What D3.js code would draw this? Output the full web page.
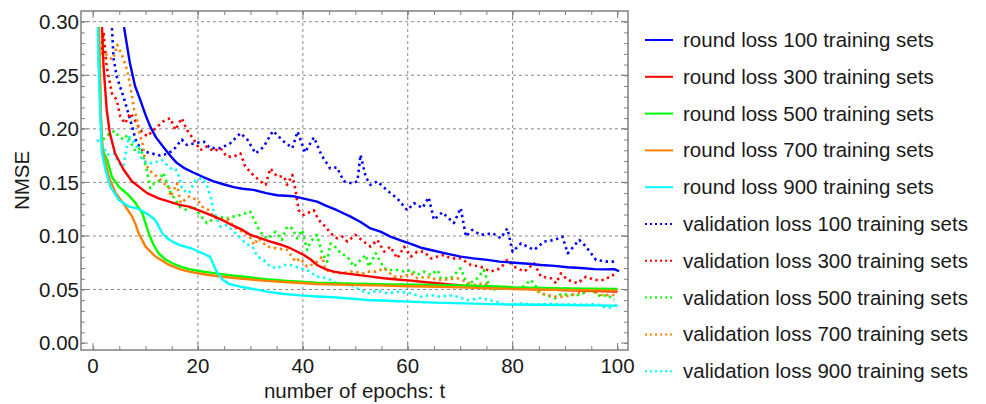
<!DOCTYPE html>
<html><head><meta charset="utf-8">
<script src="https://cdn.jsdelivr.net/npm/d3@7"></script>
<style>html,body{margin:0;padding:0;background:#fff;}svg{display:block;font-family:Arial,"Liberation Sans",sans-serif;}</style>
</head><body>
<svg id="c" width="986" height="404"></svg>
<script>
const xTicks = [0, 20, 40, 60, 80, 100];
const yTicks = [0.00, 0.05, 0.10, 0.15, 0.20, 0.25, 0.30];
const xLabel = "number of epochs: t";
const yLabel = "NMSE";
const seriesNames = ["round loss 100 training sets","round loss 300 training sets","round loss 500 training sets","round loss 700 training sets","round loss 900 training sets","validation loss 100 training sets","validation loss 300 training sets","validation loss 500 training sets","validation loss 700 training sets","validation loss 900 training sets"];
const seriesColors = ["#0000ff","#ff0000","#00ff00","#ff8000","#00ffff","#0000ff","#ff0000","#00ff00","#ff8000","#00ffff"];
const seriesDotted = [false,false,false,false,false,true,true,true,true,true];

const round100 = [[5.9,.295],[7,.262],[8,.240],[9,.227],[10,.213],[10.9,.202],[12,.192],[13.4,.183],[14.7,.175],[16,.168],[17.5,.163],[19.2,.159],[21,.155],[23,.151],[25,.148],[26.8,.1455],[28.5,.144],[30.6,.143],[33,.140],[35.1,.138],[38.3,.137],[40,.135],[42.7,.132],[44.5,.128],[46.5,.124],[49.1,.118],[51,.113],[52.9,.107],[54.8,.104],[56.7,.0994],[58.5,.096],[60.6,.0925],[62.5,.089],[64.4,.0869],[67,.084],[70.1,.0807],[72.5,.079],[75.2,.0776],[77.5,.076],[80.3,.075],[83,.074],[85.4,.0729],[88,.072],[90.5,.0707],[93,.070],[95.6,.069],[97.5,.0688],[99.4,.069],[100.3,.067]];
const round300 = [[1.7,.295],[2,.258],[2.6,.218],[3.2,.196],[4.2,.177],[5.8,.162],[7.4,.151],[10.3,.140],[12.5,.135],[14.5,.132],[16.5,.129],[18.3,.1274],[20.8,.1227],[22.7,.119],[24.6,.115],[26.5,.110],[28.5,.1056],[30,.101],[31.6,.0985],[33.8,.0947],[35.7,.092],[37.6,.0885],[40.2,.0822],[41.5,.078],[42.7,.0729],[44.3,.069],[45.9,.0667],[48,.065],[50.4,.0636],[53,.062],[55.5,.0605],[58,.0593],[60.6,.0583],[63,.057],[65.7,.0558],[68,.0547],[70.7,.0536],[74,.0528],[77.1,.052],[80,.0512],[83.5,.0505],[86.5,.050],[89.8,.0495],[93,.049],[96.5,.0485],[100,.048]];
const round500 = [[1.1,.295],[1.3,.25],[1.5,.21],[1.8,.18],[2.7,.171],[3.6,.155],[4.9,.146],[6.8,.138],[8.1,.1306],[9.4,.121],[10,.112],[10.6,.1025],[11.5,.092],[12.5,.0838],[13.8,.078],[15.1,.0745],[16.5,.0715],[18.3,.069],[20.5,.067],[23.4,.065],[26.5,.063],[29.7,.0614],[33,.0595],[36.4,.0583],[39.5,.0573],[42.7,.0564],[47,.0557],[52.3,.0551],[57,.0548],[61.8,.0545],[67,.054],[72,.0535],[77,.0528],[80,.052],[85,.0515],[90,.051],[95,.0508],[100,.0505]];
const round700 = [[1.1,.295],[1.3,.25],[1.5,.21],[1.8,.18],[3,.155],[4.3,.14],[6.2,.1274],[7.45,.118],[8.1,.111],[8.7,.1025],[10,.09],[11.9,.0807],[14.5,.0729],[16.5,.069],[18.3,.0667],[20.8,.0645],[23.4,.0626],[26.5,.061],[29.7,.0595],[33,.058],[36.4,.057],[39.5,.056],[42.7,.0551],[49,.0543],[55.5,.0536],[60,.053],[65.7,.0526],[70,.052],[75,.0512],[80,.0505],[85,.050],[90,.0495],[95,.0492],[100,.0489]];
const round900 = [[0.9,.295],[1.1,.25],[1.4,.21],[1.7,.177],[2.35,.162],[3.3,.146],[4.9,.1336],[6.8,.1274],[8.3,.126],[9.5,.123],[10.5,.12],[11.6,.116],[12.2,.112],[13.2,.1025],[14.1,.098],[15.1,.0947],[16.8,.091],[18.7,.0885],[20.5,.0845],[22.3,.0807],[23.4,.0682],[24.6,.0595],[26,.055],[28.1,.0526],[30.5,.0505],[33.2,.048],[36,.046],[39.5,.0445],[42.7,.0435],[45.9,.0427],[52.3,.0402],[58.5,.039],[65,.0377],[71,.037],[77.7,.0361],[84,.0357],[90.5,.0355],[95,.0352],[100,.0349]];
const val100 = [[3.6,.294],[3.9,.266],[4.5,.249],[5.8,.230],[7.1,.208],[8.3,.187],[9.6,.179],[11.5,.1766],[12.8,.175],[14.1,.1766],[15.3,.180],[16.9,.19],[17.9,.185],[19.8,.187],[21.1,.188],[22.3,.182],[24.3,.182],[26.2,.1866],[28.1,.196],[29.4,.19],[31,.177],[32.5,.183],[34.3,.198],[36.4,.188],[38,.182],[39,.1975],[40.4,.178],[42.1,.192],[43.6,.175],[45.2,.163],[46.5,.164],[47.8,.151],[49.4,.149],[50.4,.151],[51,.1757],[52,.155],[52.9,.1477],[54.2,.151],[56.2,.142],[58,.135],[59.9,.124],[61.2,.1306],[62.8,.126],[64,.136],[65,.115],[66.6,.122],[68.8,.112],[70.1,.126],[71.1,.0994],[72.3,.1056],[73.9,.101],[76.2,.1025],[77.7,.0978],[79,.107],[80,.0853],[81.6,.093],[84.1,.0869],[86,.0947],[88,.0963],[89.5,.0994],[90.5,.0838],[92.7,.0963],[94,.09],[95.9,.0776],[98.1,.076],[100,.076]];
const val300 = [[1,.263],[1.6,.275],[2,.29],[2.6,.258],[3.6,.233],[4.5,.227],[5.2,.2115],[6.1,.205],[7.1,.2146],[8,.208],[9,.199],[10.3,.193],[11.8,.200],[13.4,.207],[14.7,.21],[15.7,.199],[16.9,.21],[17.9,.199],[19.2,.19],[20.4,.18],[21.7,.1835],[23,.179],[24.3,.182],[25.5,.174],[26.8,.174],[28.1,.177],[29,.165],[30.3,.158],[31.9,.151],[32.9,.1477],[33.8,.163],[35.1,.1555],[36.4,.1555],[37,.1477],[38,.157],[38.6,.143],[39.2,.124],[40.2,.1196],[41.5,.1227],[42.1,.124],[43,.115],[44.3,.1087],[45.3,.1025],[46.5,.0978],[47.5,.0994],[48.5,.0947],[50,.101],[51.6,.0947],[52.9,.09],[54.2,.0963],[55.5,.0853],[56.7,.09],[58,.079],[59.3,.09],[60.6,.0807],[61.8,.0853],[63.1,.0853],[64.4,.079],[65.7,.0807],[66.9,.0822],[68.2,.079],[70.1,.079],[72,.0729],[73.9,.0713],[75.8,.0667],[77.7,.0698],[79,.0776],[80.3,.0713],[82.2,.0667],[84.1,.0745],[85.4,.062],[87.3,.0605],[88.3,.0558],[89.2,.065],[90.5,.0589],[92.4,.0558],[94,.062],[95.6,.0589],[97.5,.0589],[99.1,.0636],[99.7,.0605]];
const val500 = [[1.9,.19],[3,.195],[4.1,.198],[4.9,.193],[5.8,.19],[6.5,.194],[7.45,.185],[8.1,.179],[9,.182],[9.7,.172],[10.3,.160],[10.9,.1446],[11.6,.149],[12.5,.151],[13.4,.159],[14.7,.141],[15.3,.1367],[16.6,.127],[17.9,.124],[19.1,.128],[20.4,.1196],[21.7,.112],[23.6,.118],[25.5,.1165],[28.1,.1196],[30,.1227],[31.3,.1087],[32.5,.0994],[33.5,.0978],[34.8,.104],[36,.0963],[37,.1087],[38,.107],[38.9,.0978],[39.9,.1056],[40.8,.0869],[41.5,.0947],[42.7,.101],[43.7,.0838],[44.6,.076],[45.3,.093],[46.5,.0885],[47.2,.0838],[48.5,.0807],[49.7,.0713],[51,.0776],[52,.0822],[52.6,.0713],[53.9,.0838],[54.8,.076],[55.5,.0698],[56.7,.0682],[58,.0682],[59.3,.0667],[60.6,.0682],[61.8,.0636],[63.1,.0667],[64.4,.0636],[65.7,.0682],[66.3,.0605],[68.2,.0605],[70.1,.0698],[71.4,.0542],[73.3,.0605],[74.5,.0682],[75.8,.0495],[77.5,.051],[79,.0526],[81.6,.0511],[83.5,.0589],[85.4,.0464],[86.8,.044],[88,.0417],[89.3,.046],[90.5,.0449],[92.4,.0449],[93.7,.047],[95,.0495],[96.8,.0433],[98,.045],[99.4,.0402]];
const val700 = [[1.6,.27],[2,.272],[3.2,.266],[3.8,.265],[4.6,.2785],[5.5,.269],[6.5,.255],[7.1,.24],[7.8,.219],[8.4,.208],[8.7,.199],[9.4,.187],[10,.168],[10.6,.162],[11.5,.158],[12.5,.154],[13.8,.1477],[14.5,.1446],[14.8,.1367],[16,.149],[16.7,.1306],[18.3,.1367],[19.9,.1336],[20.8,.1274],[22.1,.124],[23,.118],[24,.115],[25.9,.115],[26.8,.1087],[27.8,.1056],[29.7,.101],[30.7,.0916],[31.5,.0978],[33.2,.09],[35.1,.0885],[37,.0869],[38.6,.076],[39.5,.079],[40.8,.0713],[42.4,.0745],[43.7,.0807],[44.3,.0682],[45.3,.0667],[47.2,.0651],[49.1,.0667],[51.6,.0651],[52.3,.0667],[54.2,.0667],[55.5,.0698],[57.4,.062],[59.3,.062],[60.6,.0651],[61.8,.0605],[63.7,.062],[65.7,.0589],[66.9,.0589],[69.5,.0605],[72.6,.0542],[74.5,.056],[76.4,.0526],[79,.0526],[81.6,.0505],[83.5,.052],[85.4,.0464],[88,.0433],[89.9,.0433],[92.4,.0464],[95,.0495],[96.8,.0449],[99.4,.0449]];
const val900 = [[0.8,.19],[2,.183],[2.7,.176],[4,.177],[4.9,.168],[5.8,.165],[6.8,.193],[7.45,.19],[8.4,.183],[9,.174],[10.2,.168],[11.5,.168],[13.1,.171],[14.8,.163],[15.7,.163],[16.4,.1555],[17,.143],[18.3,.14],[19.5,.152],[20.8,.154],[21.8,.146],[22.4,.1367],[23,.1227],[24,.112],[24.3,.1087],[25.5,.11],[26.8,.104],[27.8,.0994],[29.1,.093],[30.4,.09],[31.3,.0807],[32.5,.0776],[33.8,.0713],[35.1,.0698],[36.4,.0729],[37.6,.0729],[39.5,.0698],[40.8,.0682],[42.7,.062],[44.6,.0605],[46.5,.0558],[48.4,.0558],[50.4,.0511],[52.3,.0464],[54.2,.049],[56.1,.0464],[58.4,.048],[60.6,.0464],[62.5,.0433],[64.4,.0449],[65.7,.0433],[68.5,.0445],[71.4,.0402],[74,.042],[76.5,.039],[79,.0355],[81.5,.037],[84,.036],[86.5,.0365],[89,.036],[91.5,.036],[94,.0357],[96,.0365],[98.1,.0324],[100,.0355]];

const seriesData = [round100, round300, round500, round700, round900, val100, val300, val500, val700, val900];

const svg = d3.select("#c");
const L = 81, R = 628, T = 11, B = 350;
const x = d3.scaleLinear().domain([-2.3, 102]).range([L, R]);
const y = d3.scaleLinear().domain([-0.0065, 0.31]).range([B, T]);
const frameCol = "#808080", gridCol = "#888888";

// grid
const g = svg.append("g");
g.selectAll(".gx").data(xTicks.slice(1, -1)).join("line")
  .attr("x1", d => x(d)).attr("x2", d => x(d)).attr("y1", T).attr("y2", B)
  .attr("stroke", gridCol).attr("stroke-width", 1).attr("stroke-dasharray", "3,3");
g.selectAll(".gy").data(yTicks.slice(1)).join("line")
  .attr("x1", L).attr("x2", R).attr("y1", d => y(d)).attr("y2", d => y(d))
  .attr("stroke", gridCol).attr("stroke-width", 1).attr("stroke-dasharray", "3,3");

// data
svg.append("clipPath").attr("id", "pc").append("rect")
  .attr("x", L).attr("y", T).attr("width", R - L).attr("height", B - T);
const line = d3.line().x(d => x(d[0])).y(d => y(d[1]));
const dl = svg.append("g").attr("clip-path", "url(#pc)");
const order = [5,6,7,8,9,0,1,2,3,4];
order.forEach(i => {
  dl.append("path").datum(seriesData[i]).attr("d", line)
    .attr("fill", "none").attr("stroke", seriesColors[i])
    .attr("stroke-width", seriesDotted[i] ? 2.6 : 2.4)
    .attr("stroke-linejoin", "round")
    .attr("stroke-dasharray", seriesDotted[i] ? "2.4,3.6" : null);
});

// axes with inner ticks
const xAxB = d3.axisBottom(x).tickValues(d3.range(0, 101, 5)).tickSize(-4).tickFormat("");
const xAxT = d3.axisTop(x).tickValues(d3.range(0, 101, 5)).tickSize(-4).tickFormat("");
const yAxL = d3.axisLeft(y).tickValues(d3.range(0, 0.301, 0.01)).tickSize(-4).tickFormat("");
const yAxR = d3.axisRight(y).tickValues(d3.range(0, 0.301, 0.01)).tickSize(-4).tickFormat("");
function styleAx(sel){ sel.select(".domain").remove(); sel.selectAll("line").attr("stroke", frameCol).attr("stroke-width",1); }
svg.append("g").attr("transform", `translate(0,${B})`).call(xAxB).call(styleAx);
svg.append("g").attr("transform", `translate(0,${T})`).call(xAxT).call(styleAx);
svg.append("g").attr("transform", `translate(${L},0)`).call(yAxL).call(styleAx);
svg.append("g").attr("transform", `translate(${R},0)`).call(yAxR).call(styleAx);
const maj = svg.append("g").attr("stroke", frameCol).attr("stroke-width", 1);
xTicks.forEach(t => {
  maj.append("line").attr("x1", x(t)).attr("x2", x(t)).attr("y1", B).attr("y2", B - 7);
  maj.append("line").attr("x1", x(t)).attr("x2", x(t)).attr("y1", T).attr("y2", T + 7);
});
yTicks.forEach(t => {
  maj.append("line").attr("x1", L).attr("x2", L + 7).attr("y1", y(t)).attr("y2", y(t));
  maj.append("line").attr("x1", R).attr("x2", R - 7).attr("y1", y(t)).attr("y2", y(t));
});
svg.append("rect").attr("x", L).attr("y", T).attr("width", R - L).attr("height", B - T)
  .attr("fill", "none").attr("stroke", frameCol).attr("stroke-width", 1.5);

// labels
const fs = 20.5;
svg.selectAll(".xl").data(xTicks).join("text")
  .attr("x", d => x(d)).attr("y", B + 23).attr("text-anchor", "middle")
  .attr("font-size", fs).attr("fill", "#1a1a1a").text(d => d);
svg.selectAll(".yl").data(yTicks).join("text")
  .attr("x", L - 2).attr("y", d => y(d)).attr("dy", "0.36em").attr("text-anchor", "end")
  .attr("font-size", fs).attr("fill", "#1a1a1a").text(d => d.toFixed(2));
svg.append("text").attr("x", (L + R) / 2).attr("y", 398).attr("text-anchor", "middle")
  .attr("font-size", fs).attr("fill", "#1a1a1a").text(xLabel);
svg.append("text").attr("transform", `translate(29,${(T + B) / 2}) rotate(-90)`)
  .attr("text-anchor", "middle").attr("font-size", fs).attr("fill", "#1a1a1a").text(yLabel);

// legend
const lg = svg.append("g");
seriesNames.forEach((n, i) => {
  const ly = 40 + i * 36.8;
  lg.append("line").attr("x1", 645).attr("x2", 673).attr("y1", ly).attr("y2", ly)
    .attr("stroke", seriesColors[i]).attr("stroke-width", 2)
    .attr("stroke-dasharray", seriesDotted[i] ? "2,3" : null);
  lg.append("text").attr("x", 683).attr("y", ly + 7).attr("font-size", fs)
    .attr("fill", "#1a1a1a").text(n);
});
</script>
</body></html>
